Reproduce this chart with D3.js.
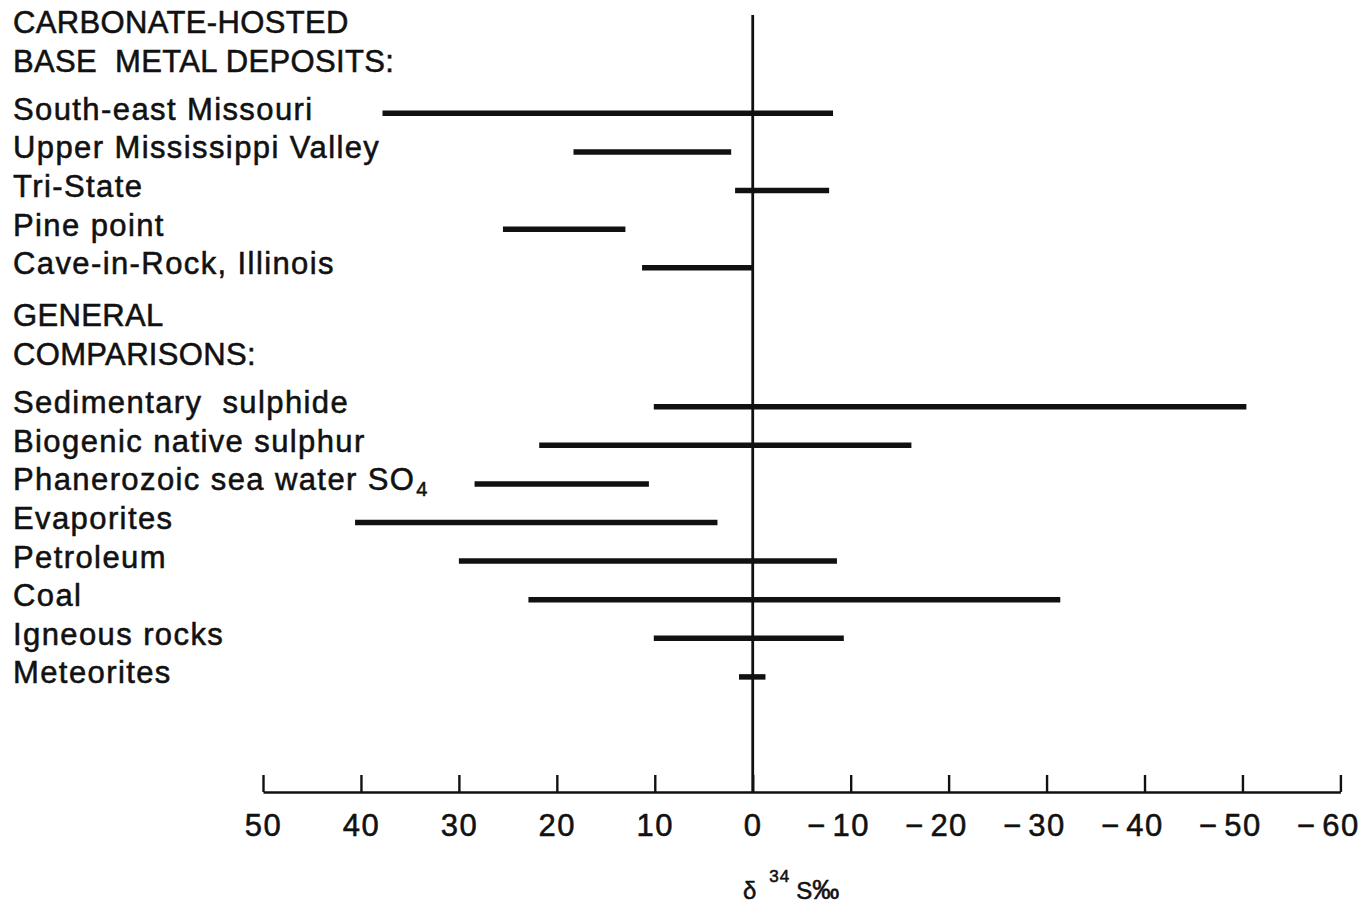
<!DOCTYPE html>
<html>
<head>
<meta charset="utf-8">
<script src="https://cdn.jsdelivr.net/npm/d3@7"></script>
<style>
  html, body { margin: 0; padding: 0; background: #fff; }
  svg { display: block; }
  text { font-family: "Liberation Sans", Arial, Helvetica, sans-serif; fill: #111; stroke: #111; stroke-width: 0.55; }
</style>
</head>
<body>
<svg id="chart" width="1363" height="906"></svg>
<script>
// ---- Data ----
const carbonateHeading = ["CARBONATE-HOSTED", "BASE  METAL DEPOSITS:"];
const carbonateNames = ["South-east Missouri", "Upper Mississippi Valley", "Tri-State", "Pine point", "Cave-in-Rock, Illinois"];
const carbonateHigh = [37.8, 18.3, 1.8, 25.5, 11.3];
const carbonateLow  = [-8.2, 2.2, -7.8, 13.0, 0.0];

const generalHeading = ["GENERAL", "COMPARISONS:"];
const generalNames = ["Sedimentary  sulphide", "Biogenic native sulphur", "Phanerozoic sea water SO|4", "Evaporites", "Petroleum", "Coal", "Igneous rocks", "Meteorites"];
const generalHigh = [10.1, 21.8, 28.4, 40.6, 30.0, 22.9, 10.1, 1.4];
const generalLow  = [-50.4, -16.2, 10.6, 3.6, -8.6, -31.4, -9.3, -1.3];

const tickValues = [50, 40, 30, 20, 10, 0, -10, -20, -30, -40, -50, -60];
const axisTitle = { symbol: "δ", sup: "34", rest: "S", permil: "‰" };

// ---- Layout ----
const svg = d3.select("#chart");
const ink = "#111";

const groups = [
  { heading: carbonateHeading, names: carbonateNames, high: carbonateHigh, low: carbonateLow },
  { heading: generalHeading, names: generalNames, high: generalHigh, low: generalLow }
];

const rows = [];
let slot = 0;
groups.forEach((g, gi) => {
  if (gi > 0) slot += 0.35;
  g.heading.forEach(line => { rows.push({ type: "head", text: line, slot }); slot += 1; });
  slot += 0.25;
  g.names.forEach((n, i) => {
    rows.push({ type: "item", text: n, high: g.high[i], low: g.low[i], slot });
    slot += 1;
  });
});
const lastSlot = slot - 1;

const x = d3.scaleLinear().domain([50, -60]).range([263, 1340.4]);
const y = d3.scaleLinear().domain([0, lastSlot]).range([33, 683.4]);
const axisY = 792;

// zero line
svg.append("line")
  .attr("x1", x(0)).attr("x2", x(0))
  .attr("y1", 15).attr("y2", axisY)
  .attr("stroke", ink).attr("stroke-width", 2.8);

// labels
const labelX = 13;
rows.forEach(r => {
  const t = svg.append("text")
    .attr("x", labelX)
    .attr("y", y(r.slot))
    .attr("font-size", 31)
    .style("white-space", "pre")
    .attr("letter-spacing", r.type === "head" ? 0.35 : 1.4);
  const parts = r.text.split("|");
  t.append("tspan").text(parts[0]);
  if (parts.length > 1) {
    t.append("tspan").attr("font-size", 20).attr("dy", 6).attr("dx", 1).text(parts[1]);
  }
});

// range bars
const items = rows.filter(r => r.type === "item");
svg.append("g").selectAll("line")
  .data(items)
  .join("line")
  .attr("x1", d => x(d.high))
  .attr("x2", d => x(d.low))
  .attr("y1", d => y(d.slot) - 6.5)
  .attr("y2", d => y(d.slot) - 6.5)
  .attr("stroke", ink)
  .attr("stroke-width", 5.5)
  .attr("stroke-linecap", "butt");

// axis
const axis = d3.axisBottom(x)
  .tickValues(tickValues)
  .tickSizeInner(-17)
  .tickSizeOuter(0)
  .tickPadding(0)
  .tickFormat(d => Math.abs(d));

const gAxis = svg.append("g")
  .attr("transform", `translate(0,${axisY})`)
  .call(axis);
gAxis.select(".domain").attr("stroke", ink).attr("stroke-width", 2.4);
gAxis.selectAll(".tick line").attr("stroke", ink).attr("stroke-width", 2.4);
gAxis.selectAll(".tick text")
  .attr("y", 44).attr("dy", 0)
  .attr("font-size", 31)
  .attr("letter-spacing", 1.5)
  .attr("fill", ink)
  .style("font-family", '"Liberation Sans", Arial, sans-serif');
gAxis.selectAll(".tick").filter(d => d < 0)
  .append("text")
  .attr("x", -26).attr("y", 44)
  .attr("text-anchor", "end")
  .attr("font-size", 31)
  .attr("fill", ink)
  .style("font-family", '"Liberation Sans", Arial, sans-serif')
  .text("−");

// axis title
const title = svg.append("text")
  .attr("x", 743).attr("y", 899)
  .attr("font-size", 24);
title.append("tspan").text(axisTitle.symbol);
title.append("tspan").attr("font-size", 17).attr("dx", 13).attr("dy", -17).attr("letter-spacing", 1).text(axisTitle.sup);
title.append("tspan").attr("dx", 6).attr("dy", 17).text(axisTitle.rest);
title.append("tspan").attr("font-size", 27).attr("dx", 0).text(axisTitle.permil);
</script>
</body>
</html>
